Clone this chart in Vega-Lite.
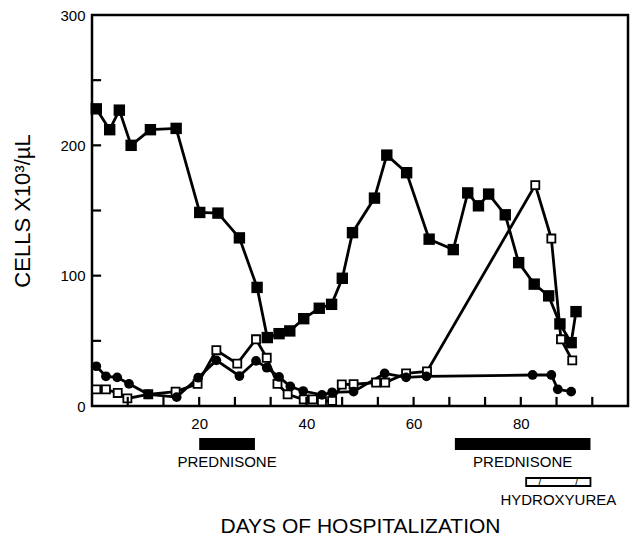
{
  "$schema": "https://vega.github.io/schema/vega-lite/v6.json",
  "background": "white",
  "padding": {"left": 10, "top": 6, "right": 5, "bottom": 0},
  "spacing": 0,
  "config": {
    "font": "Liberation Sans",
    "axis": {"labelFont": "Liberation Sans", "titleFont": "Liberation Sans", "labelColor": "black", "titleColor": "black", "grid": false, "titleFontWeight": "normal"},
    "text": {"font": "Liberation Sans", "color": "black"}
  },
  "datasets": {
    "counts": [
      {"series": "filled", "day": 0.8, "value": 228}, {"series": "filled", "day": 3.3, "value": 212}, {"series": "filled", "day": 5.1, "value": 227}, {"series": "filled", "day": 7.3, "value": 200}, {"series": "filled", "day": 10.9, "value": 212}, {"series": "filled", "day": 15.7, "value": 213}, {"series": "filled", "day": 20.1, "value": 148.5}, {"series": "filled", "day": 23.5, "value": 148}, {"series": "filled", "day": 27.5, "value": 129}, {"series": "filled", "day": 30.8, "value": 91}, {"series": "filled", "day": 32.7, "value": 52.5}, {"series": "filled", "day": 34.9, "value": 55.5}, {"series": "filled", "day": 36.9, "value": 57.6}, {"series": "filled", "day": 39.5, "value": 67}, {"series": "filled", "day": 42.4, "value": 75}, {"series": "filled", "day": 44.7, "value": 78}, {"series": "filled", "day": 46.7, "value": 98}, {"series": "filled", "day": 48.6, "value": 133}, {"series": "filled", "day": 52.7, "value": 159.5}, {"series": "filled", "day": 55, "value": 192.5}, {"series": "filled", "day": 58.7, "value": 179}, {"series": "filled", "day": 62.9, "value": 128}, {"series": "filled", "day": 67.4, "value": 120}, {"series": "filled", "day": 70.1, "value": 163.5}, {"series": "filled", "day": 72.1, "value": 153.6}, {"series": "filled", "day": 74, "value": 162.6}, {"series": "filled", "day": 77.1, "value": 146.7}, {"series": "filled", "day": 79.6, "value": 110}, {"series": "filled", "day": 82.5, "value": 93.5}, {"series": "filled", "day": 85.2, "value": 84.5}, {"series": "filled", "day": 87.3, "value": 63}, {"series": "filled", "day": 89.4, "value": 48.6}, {"series": "filled", "day": 90.3, "value": 72.4},
      {"series": "open", "day": 0.8, "value": 12.8}, {"series": "open", "day": 2.6, "value": 12.8}, {"series": "open", "day": 4.8, "value": 10}, {"series": "open", "day": 6.6, "value": 5.8}, {"series": "open", "day": 10.5, "value": 9}, {"series": "open", "day": 15.6, "value": 11}, {"series": "open", "day": 19.7, "value": 17}, {"series": "open", "day": 23.2, "value": 42.8}, {"series": "open", "day": 27.1, "value": 32.5}, {"series": "open", "day": 30.6, "value": 51.2}, {"series": "open", "day": 32.6, "value": 37}, {"series": "open", "day": 34.6, "value": 17}, {"series": "open", "day": 36.5, "value": 9}, {"series": "open", "day": 39.5, "value": 5}, {"series": "open", "day": 41.2, "value": 5}, {"series": "open", "day": 42.9, "value": 3.5}, {"series": "open", "day": 44.8, "value": 4}, {"series": "open", "day": 46.6, "value": 16.5}, {"series": "open", "day": 48.8, "value": 16.7}, {"series": "open", "day": 53, "value": 18}, {"series": "open", "day": 54.7, "value": 18}, {"series": "open", "day": 58.6, "value": 25}, {"series": "open", "day": 62.5, "value": 26.5}, {"series": "open", "day": 82.7, "value": 169.5}, {"series": "open", "day": 85.7, "value": 128.5}, {"series": "open", "day": 87.5, "value": 51.2}, {"series": "open", "day": 89.6, "value": 35},
      {"series": "circle", "day": 0.8, "value": 30.5}, {"series": "circle", "day": 2.6, "value": 22.8}, {"series": "circle", "day": 4.7, "value": 22}, {"series": "circle", "day": 6.9, "value": 17}, {"series": "circle", "day": 10.5, "value": 9}, {"series": "circle", "day": 15.8, "value": 6.8}, {"series": "circle", "day": 19.8, "value": 21.7}, {"series": "circle", "day": 23.2, "value": 35}, {"series": "circle", "day": 27.5, "value": 23}, {"series": "circle", "day": 30.6, "value": 34.6}, {"series": "circle", "day": 32.6, "value": 29.4}, {"series": "circle", "day": 34.9, "value": 22.3}, {"series": "circle", "day": 37, "value": 15}, {"series": "circle", "day": 39.4, "value": 11.5}, {"series": "circle", "day": 42.9, "value": 8.5}, {"series": "circle", "day": 44.8, "value": 10.5}, {"series": "circle", "day": 48.8, "value": 11}, {"series": "circle", "day": 54.6, "value": 25}, {"series": "circle", "day": 58.6, "value": 22}, {"series": "circle", "day": 62.4, "value": 22.7}, {"series": "circle", "day": 82.2, "value": 23.8}, {"series": "circle", "day": 85.7, "value": 23.8}, {"series": "circle", "day": 86.9, "value": 12.8}, {"series": "circle", "day": 89.4, "value": 11}
    ],
    "xticks": [{"tick": 6.667}, {"tick": 13.333}, {"tick": 20}, {"tick": 26.667}, {"tick": 33.333}, {"tick": 40}, {"tick": 46.667}, {"tick": 53.333}, {"tick": 60}, {"tick": 66.667}, {"tick": 73.333}, {"tick": 80}, {"tick": 86.667}, {"tick": 93.333}],
    "yticks": [{"tick": 50}, {"tick": 100}, {"tick": 150}, {"tick": 200}, {"tick": 250}],
    "treat": [
      {"row": "PREDNISONE", "label": "PREDNISONE", "start": 20, "end": 30.4},
      {"row": "PREDNISONE", "label": "PREDNISONE", "start": 67.7, "end": 93},
      {"row": "HYDROXYUREA", "label": "HYDROXYUREA", "start": 81, "end": 93}
    ]
  },
  "vconcat": [
    {
      "width": 536,
      "height": 391,
      "view": {"stroke": "black", "strokeWidth": 2.5},
      "layer": [
        {"data": {"name": "counts"},
          "mark": {"type": "line", "color": "black", "strokeWidth": 2.8},
          "encoding": {
            "x": {"field": "day", "type": "quantitative", "scale": {"domain": [0, 100], "nice": false, "zero": false},
              "axis": {"title": null, "values": [20, 40, 60, 80], "ticks": false, "tickSize": 0, "domain": false, "labelFontSize": 15, "labelPadding": 10, "labelOverlap": false, "labelFlush": false}},
            "y": {"field": "value", "type": "quantitative", "scale": {"domain": [0, 300], "nice": false},
              "axis": {"title": "CELLS X10³/µL", "values": [0, 100, 200, 300], "ticks": false, "tickSize": 0, "domain": false, "labelFontSize": 15, "labelPadding": 7, "labelOverlap": false, "labelFlush": false, "titleFontSize": 22, "titlePadding": 25}},
            "detail": {"field": "series"}}},
        {"data": {"name": "counts"}, "transform": [{"filter": "datum.series === 'filled'"}],
          "mark": {"type": "point", "shape": "square", "filled": true, "color": "black", "size": 130, "opacity": 1},
          "encoding": {"x": {"field": "day", "type": "quantitative"}, "y": {"field": "value", "type": "quantitative"}}},
        {"data": {"name": "counts"}, "transform": [{"filter": "datum.series === 'open'"}],
          "mark": {"type": "point", "shape": "square", "filled": true, "fill": "white", "stroke": "black", "strokeWidth": 1.8, "size": 65, "opacity": 1},
          "encoding": {"x": {"field": "day", "type": "quantitative"}, "y": {"field": "value", "type": "quantitative"}}},
        {"data": {"name": "counts"}, "transform": [{"filter": "datum.series === 'circle'"}],
          "mark": {"type": "circle", "color": "black", "size": 95, "opacity": 1},
          "encoding": {"x": {"field": "day", "type": "quantitative"}, "y": {"field": "value", "type": "quantitative"}}},
        {"data": {"name": "xticks"},
          "mark": {"type": "rule", "color": "black", "strokeWidth": 2.2},
          "encoding": {
            "x": {"field": "tick", "type": "quantitative"},
            "y": {"datum": 0, "type": "quantitative"},
            "y2": {"datum": 7}}},
        {"data": {"name": "yticks"},
          "mark": {"type": "rule", "color": "black", "strokeWidth": 2.2},
          "encoding": {
            "y": {"field": "tick", "type": "quantitative"},
            "x": {"datum": 0, "type": "quantitative"},
            "x2": {"datum": 1.7}}}
      ]
    },
    {
      "width": 536,
      "height": 60,
      "view": {"stroke": null},
      "data": {"name": "treat"},
      "encoding": {
        "y": {"field": "row", "type": "nominal", "scale": {"type": "band", "domain": ["PREDNISONE", "HYDROXYUREA"], "paddingInner": 0.421, "paddingOuter": 0, "align": 0}, "axis": null}
      },
      "layer": [
        {"transform": [{"filter": "datum.row === 'PREDNISONE'"}],
          "mark": {"type": "bar", "color": "black", "height": 12},
          "encoding": {
            "x": {"field": "start", "type": "quantitative", "scale": {"domain": [0, 100], "nice": false, "zero": false}, "axis": {"title": "DAYS OF HOSPITALIZATION", "labels": false, "ticks": false, "domain": false, "titleFontSize": 21, "titlePadding": 22}},
            "x2": {"field": "end"}}},
        {"transform": [{"filter": "datum.row === 'HYDROXYUREA'"}],
          "mark": {"type": "bar", "fill": "white", "stroke": "black", "strokeWidth": 1.8, "height": 8},
          "encoding": {
            "x": {"field": "start", "type": "quantitative", "scale": {"domain": [0, 100], "nice": false, "zero": false}, "axis": {"title": "DAYS OF HOSPITALIZATION", "labels": false, "ticks": false, "domain": false, "titleFontSize": 21, "titlePadding": 22}},
            "x2": {"field": "end"}}},
        {"transform": [{"fold": ["start", "end"], "as": ["edge", "pos"]}, {"aggregate": [{"op": "mean", "field": "pos", "as": "mid"}], "groupby": ["row", "label", "start", "end"]}],
          "mark": {"type": "text", "fontSize": 15, "dy": 18, "baseline": "middle", "align": "center"},
          "encoding": {
            "x": {"field": "mid", "type": "quantitative", "scale": {"domain": [0, 100], "nice": false, "zero": false}, "axis": {"title": "DAYS OF HOSPITALIZATION", "labels": false, "ticks": false, "domain": false, "titleFontSize": 21, "titlePadding": 22}},
            "text": {"field": "label"}}},
        {"transform": [{"filter": "datum.row === 'HYDROXYUREA'"}, {"fold": ["start", "end"], "as": ["edge", "pos"]}, {"aggregate": [{"op": "mean", "field": "pos", "as": "mid"}], "groupby": ["row"]}],
          "mark": {"type": "text", "fontSize": 11, "baseline": "middle", "align": "center", "text": "/\u00a0\u00a0\u00a0\u00a0\u00a0\u00a0\u00a0\u00a0\u00a0\u00a0\u00a0/"},
          "encoding": {
            "x": {"field": "mid", "type": "quantitative", "scale": {"domain": [0, 100], "nice": false, "zero": false}, "axis": {"title": "DAYS OF HOSPITALIZATION", "labels": false, "ticks": false, "domain": false, "titleFontSize": 21, "titlePadding": 22}}}}
      ]
    }
  ]
}
